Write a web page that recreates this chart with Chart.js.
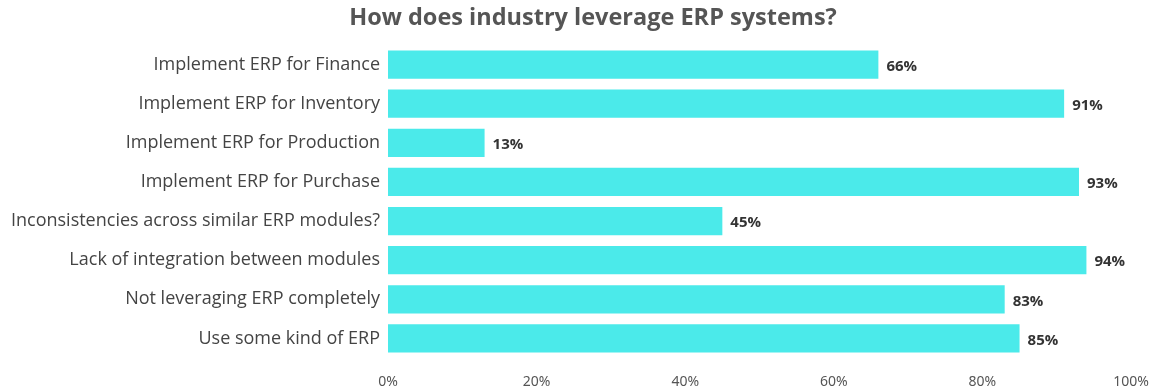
<!DOCTYPE html>
<html>
<head>
<meta charset="utf-8">
<script src="https://cdn.jsdelivr.net/npm/chart.js@4/dist/chart.umd.min.js"></script>
<style>
  html, body { margin: 0; padding: 0; background: #fff; }
  #wrap { width: 1154px; height: 392px; }
</style>
</head>
<body>
<div id="wrap"><canvas id="erpChart"></canvas></div>
<script>
const categories = [
    "Implement ERP for Finance",
    "Implement ERP for Inventory",
    "Implement ERP for Production",
    "Implement ERP for Purchase",
    "Inconsistencies across similar ERP modules?",
    "Lack of integration between modules",
    "Not leveraging ERP completely",
    "Use some kind of ERP"
];
const percentages = [66, 91, 13, 93, 45, 94, 83, 85];
const tickValues = [0, 20, 40, 60, 80, 100];

const chartTitle = "How does industry leverage ERP systems?";

// title drawn by hand so it can sit a little right of the canvas centre
const titlePlugin = {
    id: 'topTitle',
    afterDraw(chart) {
        const c = chart.ctx;
        c.save();
        c.font = 'bold 23.5px "Open Sans", sans-serif';
        c.fillStyle = '#555555';
        c.textAlign = 'center';
        c.textBaseline = 'middle';
        c.fillText(chartTitle, 593, 18);
        c.restore();
    }
};

// percentage printed just past the end of each bar
const valueLabels = {
    id: 'valueLabels',
    afterDatasetsDraw(chart) {
        const c = chart.ctx;
        const meta = chart.getDatasetMeta(0);
        c.save();
        c.font = 'bold 15px "Open Sans", sans-serif';
        c.fillStyle = '#333333';
        c.textAlign = 'left';
        c.textBaseline = 'middle';
        meta.data.forEach((bar, i) => {
            c.fillText(percentages[i] + '%', bar.x + 8, bar.y + 2);
        });
        c.restore();
    }
};

new Chart(document.getElementById('erpChart').getContext('2d'), {
    type: 'bar',
    data: {
        labels: categories,
        datasets: [{
            data: percentages,
            backgroundColor: '#4beaea',
            borderWidth: 0,
            categoryPercentage: 0.72,
            barPercentage: 1.0
        }]
    },
    options: {
        indexAxis: 'y',
        responsive: true,
        maintainAspectRatio: false,
        animation: false,
        layout: { padding: { top: 45, right: 23, bottom: 0, left: 0 } },
        scales: {
            x: {
                min: 0,
                max: 100,
                afterBuildTicks(axis) {
                    axis.ticks = tickValues.map(v => ({ value: v }));
                },
                afterFit(axis) {
                    axis.height = 34;
                    // let the last tick label hang past the plot edge
                    axis.paddingLeft = 0;
                    axis.paddingRight = 0;
                },
                grid: { display: false, drawTicks: false },
                border: { display: false },
                ticks: {
                    padding: 16,
                    color: '#555555',
                    font: { family: '"Noto Sans", sans-serif', size: 14 },
                    maxRotation: 0,
                    callback: v => v + '%'
                }
            },
            y: {
                afterFit(axis) { axis.width = 388; },
                grid: { display: false, drawTicks: false },
                border: { display: false },
                ticks: {
                    padding: 8,
                    color: '#444444',
                    font: { family: '"Open Sans", sans-serif', size: 18 }
                }
            }
        },
        plugins: {
            legend: { display: false },
            title: { display: false },
            tooltip: { enabled: false }
        }
    },
    plugins: [titlePlugin, valueLabels]
});
</script>
</body>
</html>
